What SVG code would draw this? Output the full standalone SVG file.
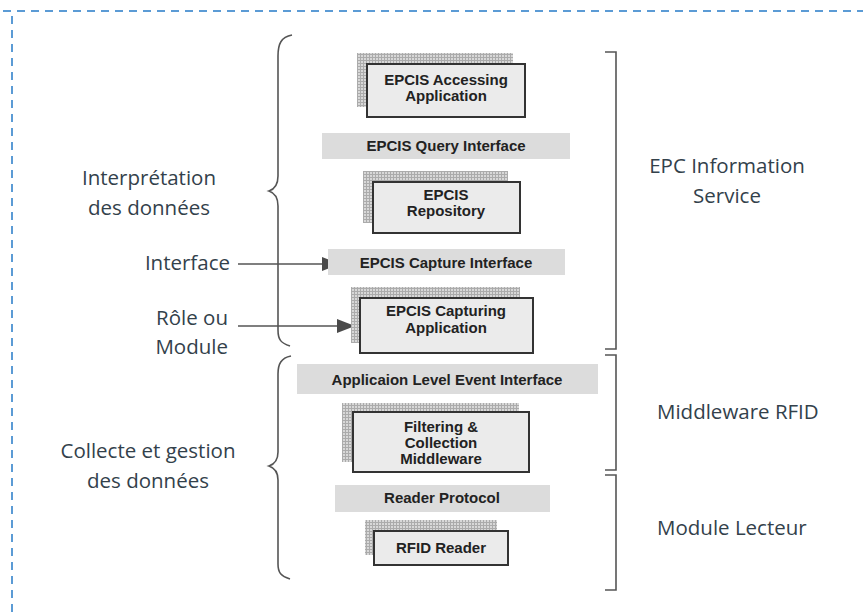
<svg xmlns="http://www.w3.org/2000/svg" width="863" height="613" viewBox="0 0 863 613">
<defs>
<pattern id="grid" width="3" height="3" patternUnits="userSpaceOnUse">
<rect width="3" height="3" fill="#d8d8d8"/>
<path d="M0,0.5 H3 M0.5,0 V3" stroke="#ababab" stroke-width="1" fill="none"/>
</pattern>
<marker id="arr" viewBox="0 0 18 14" refX="18" refY="7" markerWidth="18" markerHeight="14" markerUnits="userSpaceOnUse" orient="auto">
<path d="M0,0 L18,7 L0,14 Z" fill="#4a4a4a"/>
</marker>
<style>
.lbl{font-family:"Open Sans","Liberation Sans",sans-serif;font-size:20.5px;fill:#33414b}
.bt{font-family:"Liberation Sans",Arial,sans-serif;font-size:15px;font-weight:bold;fill:#222;text-anchor:middle}
.box{fill:#ebebeb;stroke:#333;stroke-width:2}
.shd{fill:url(#grid)}
.bar{fill:#dcdcdc}
.brace{fill:none;stroke:#555;stroke-width:1.6}
.conn{stroke:#555;stroke-width:1.5;fill:none}
</style>
</defs>
<rect width="863" height="613" fill="#fff"/>
<g id="border" fill="none" stroke="#5b9bd5" stroke-width="2" stroke-dasharray="8,6">
<path d="M3,11 H863"/>
<path d="M12,16 V613"/>
</g>

<g id="braces">
<path class="brace" d="M292,35 C281,37 278,44 278,56 L278,176 C278,185 275,189 269,191 C275,193 278,197 278,206 L278,330 C278,340 281,343 290,346"/>
<path class="brace" d="M291,356 C281,358 278,364 278,374 L278,452 C278,460 275,464 269,466 C275,468 278,472 278,480 L278,564 C278,573 281,576 290,579"/>
</g>
<g id="brackets" class="brace">
<path d="M605,52 H616 V349 H605"/>
<path d="M605,355 H616 V470 H605"/>
<path d="M605,475 H616 V590 H605"/>
</g>

<g id="connectors">
<line class="conn" x1="238" y1="264" x2="340" y2="264" marker-end="url(#arr)"/>
<line class="conn" x1="238" y1="326" x2="355" y2="326" marker-end="url(#arr)"/>
</g>

<g id="accessing">
<rect class="shd" x="357" y="53" width="156" height="54"/>
<rect class="box" x="367" y="64" width="158" height="53"/>
<text class="bt" x="446" y="85">EPCIS Accessing</text>
<text class="bt" x="446" y="101">Application</text>
</g>
<g id="query">
<rect class="bar" x="322" y="133" width="248" height="26"/>
<text class="bt" x="446" y="151">EPCIS Query Interface</text>
</g>
<g id="repository">
<rect class="shd" x="363" y="171" width="145" height="52"/>
<rect class="box" x="373" y="182" width="147" height="51"/>
<text class="bt" x="446" y="200">EPCIS</text>
<text class="bt" x="446" y="216">Repository</text>
</g>
<g id="capture">
<rect class="bar" x="328" y="249" width="237" height="26"/>
<text class="bt" x="446" y="268">EPCIS Capture Interface</text>
</g>
<g id="capturing">
<rect class="shd" x="351" y="287" width="169" height="56"/>
<rect class="box" x="360" y="298" width="173" height="55"/>
<text class="bt" x="446" y="316">EPCIS Capturing</text>
<text class="bt" x="446" y="333">Application</text>
</g>
<g id="ale">
<rect class="bar" x="297" y="364" width="301" height="30"/>
<text class="bt" x="447" y="385">Applicaion Level Event Interface</text>
</g>
<g id="filtering">
<rect class="shd" x="342" y="403" width="177" height="59"/>
<rect class="box" x="353" y="412" width="176" height="60"/>
<text class="bt" x="441" y="432">Filtering &amp;</text>
<text class="bt" x="441" y="448">Collection</text>
<text class="bt" x="441" y="464">Middleware</text>
</g>
<g id="protocol">
<rect class="bar" x="335" y="485" width="215" height="27"/>
<text class="bt" x="442" y="503">Reader Protocol</text>
</g>
<g id="reader">
<rect class="shd" x="365" y="520" width="132" height="35"/>
<rect class="box" x="374" y="531" width="134" height="34"/>
<text class="bt" x="441" y="553">RFID Reader</text>
</g>

<g id="left-labels" class="lbl">
<text x="149" y="185" text-anchor="middle">Interprétation</text>
<text x="149" y="215" text-anchor="middle">des données</text>
<text x="230" y="270" text-anchor="end">Interface</text>
<text x="228" y="325" text-anchor="end">Rôle ou</text>
<text x="228" y="354" text-anchor="end">Module</text>
<text x="148" y="458" text-anchor="middle">Collecte et gestion</text>
<text x="148" y="488" text-anchor="middle">des données</text>
</g>
<g id="right-labels" class="lbl">
<text x="727" y="173" text-anchor="middle">EPC Information</text>
<text x="727" y="203" text-anchor="middle">Service</text>
<text x="657" y="419">Middleware RFID</text>
<text x="657" y="535">Module Lecteur</text>
</g>
</svg>
